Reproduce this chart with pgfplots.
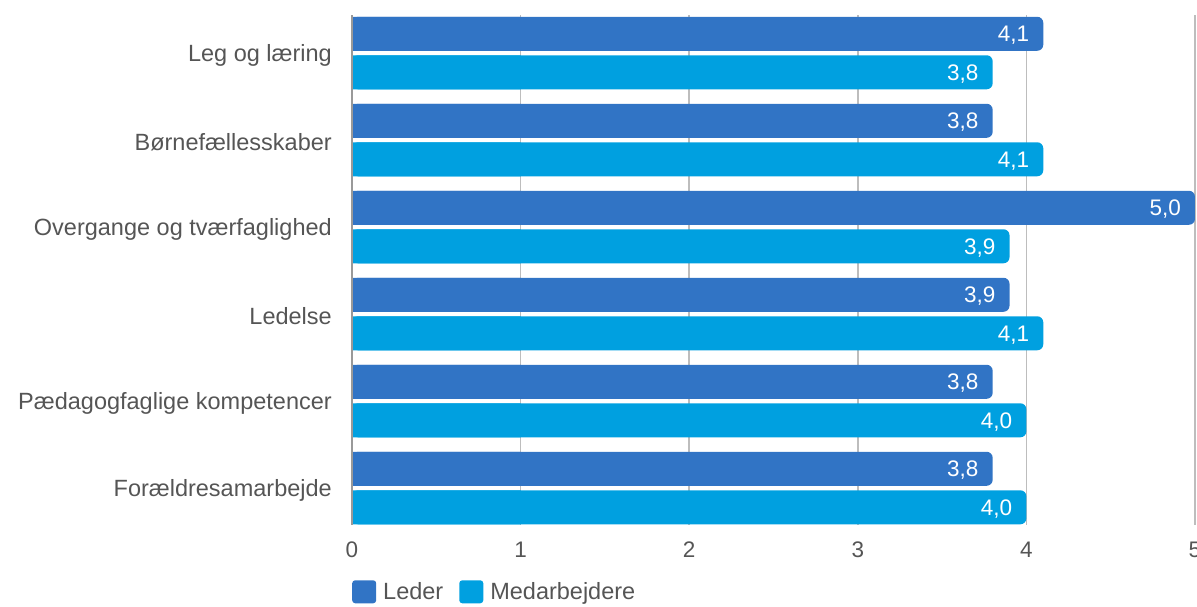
\documentclass[border=0pt]{standalone}
\usepackage{pgfplots}
\pgfplotsset{compat=1.18}
\usepackage{fontspec}
\setmainfont{Liberation Sans}
\definecolor{leder}{HTML}{3174C5}
\definecolor{medarb}{HTML}{00A0E0}
\definecolor{txt}{HTML}{555555}
\definecolor{gridc}{HTML}{BDBDBD}
\begin{document}
\begin{tikzpicture}
\begin{axis}[
  at={(0pt,0pt)}, anchor=south west,
  scale only axis, width=843pt, height=510pt,
  xbar, bar width=34pt,
  xmin=0, xmax=5,
  ymin=-0.437, ymax=5.425, y dir=reverse,
  ytick={0,1,2,3,4,5},
  yticklabels={Leg og læring,Børnefællesskaber,Overgange og tværfaglighed,Ledelse,Pædagogfaglige kompetencer,Forældresamarbejde},
  xtick={0,1,2,3,4,5},
  axis line style={draw=none},
  major tick length=0pt,
  xmajorgrids, grid style={gridc, line width=1.5pt},
  tick label style={text=txt},
  yticklabel style={inner sep=0pt, xshift=-20pt, yshift=-2pt, font=\fontsize{23.5}{27}\selectfont},
  xticklabel style={inner sep=0pt, yshift=-17pt, font=\fontsize{22.5}{26}\selectfont},
  /pgf/number format/assume math mode=true,
  nodes near coords={\pgfmathprintnumber[fixed,zerofill,precision=1,use comma,assume math mode=true]{\pgfplotspointmeta}},
  every node near coord/.append style={anchor=east, inner sep=0pt, xshift=-14pt, yshift=-1.5pt, text=white, font=\fontsize{22.5}{26}\selectfont},
  legend style={at={(0,-0.108)}, anchor=north west, draw=none, fill=none, inner sep=0pt, legend columns=2,
    font=\fontsize{23.5}{27}\selectfont, text=txt,
    /tikz/every even column/.append style={column sep=14pt},
    /tikz/every odd column/.append style={column sep=5pt}},
  legend cell align=left,
  clip=false,
]
\addplot[fill=leder, draw=none, rounded corners=6pt, bar shift=19.25pt,
  legend image code/.code={\fill[leder, rounded corners=3pt] (0pt,-11.5pt) rectangle (24pt,11.5pt);}]
  coordinates {(4.1,0) (3.8,1) (5.0,2) (3.9,3) (3.8,4) (3.8,5)};
\addplot[fill=medarb, draw=none, rounded corners=6pt, bar shift=-19.25pt,
  legend image code/.code={\fill[medarb, rounded corners=3pt] (0pt,-11.5pt) rectangle (24pt,11.5pt);}]
  coordinates {(3.8,0) (4.1,1) (3.9,2) (4.1,3) (4.0,4) (4.0,5)};
\legend{Leder,Medarbejdere}
\addplot[fill=leder, draw=none, bar shift=19.25pt, nodes near coords={}, x filter/.expression={min(x,1)}, forget plot]
  coordinates {(4.1,0) (3.8,1) (5.0,2) (3.9,3) (3.8,4) (3.8,5)};
\addplot[fill=medarb, draw=none, bar shift=-19.25pt, nodes near coords={}, x filter/.expression={min(x,1)}, forget plot]
  coordinates {(3.8,0) (4.1,1) (3.9,2) (4.1,3) (4.0,4) (4.0,5)};
\draw[color=gray!80, line width=2.5pt] (rel axis cs:0,0) -- (rel axis cs:0,1);
\end{axis}
\pgfresetboundingbox
\path[use as bounding box] (-352pt,-81pt) rectangle (845pt,525pt);
\end{tikzpicture}
\end{document}
